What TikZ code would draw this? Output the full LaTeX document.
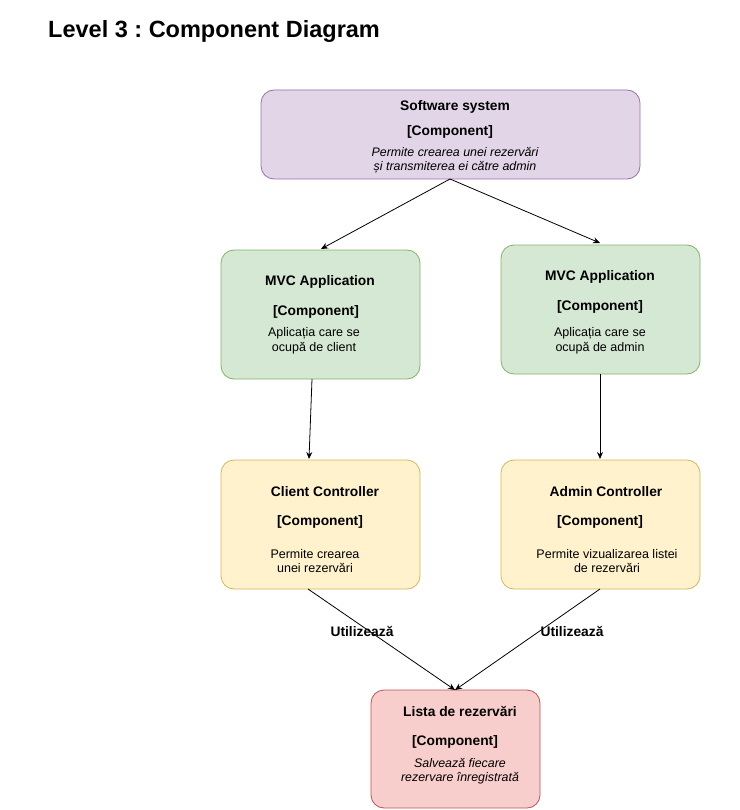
\documentclass[tikz,border=0pt]{standalone}
\usepackage{fontspec}
\setmainfont{Liberation Sans}
\usetikzlibrary{arrows.meta}
\frenchspacing
\definecolor{purpF}{HTML}{E1D5E7}\definecolor{purpS}{HTML}{9673A6}
\definecolor{greenF}{HTML}{D5E8D4}\definecolor{greenS}{HTML}{82B366}
\definecolor{yelF}{HTML}{FFF2CC}\definecolor{yelS}{HTML}{D6B656}
\definecolor{redF}{HTML}{F8CECC}\definecolor{redS}{HTML}{B85450}
\tikzset{
  box/.style={draw, rounded corners=13pt, line width=0.8pt},
  ttl/.style={font=\fontsize{13.8}{15}\selectfont\bfseries, inner sep=0pt},
  dsc/.style={font=\fontsize{12.5}{14.5}\selectfont, inner sep=0pt, align=center},
  dsci/.style={font=\fontsize{12.4}{14.5}\selectfont\itshape, inner sep=0pt, align=center},
  conn/.style={draw=black, line width=0.8pt, -{Stealth[length=7pt,width=6pt]}},
}
\begin{document}
\begin{tikzpicture}[x=1pt,y=-1pt]
\useasboundingbox (0,0) rectangle (739,810);
\node[anchor=west, font=\fontsize{23.5}{26}\selectfont\bfseries, inner sep=0pt] (title) at (48,31.5) {Level 3 : Component Diagram};
% boxes
\path[box, fill=purpF, draw=purpS] (261,90) rectangle (640,179);
\coordinate (ssb) at (450,179);
\path[box, fill=greenF, draw=greenS] (221,250) rectangle (420,379);
\path[box, fill=greenF, draw=greenS] (501,245) rectangle (700,374);
\path[box, fill=yelF, draw=yelS] (221,460) rectangle (420,589);
\path[box, fill=yelF, draw=yelS] (501,460) rectangle (700,589);
\path[box, fill=redF, draw=redS] (371,690) rectangle (540,808);
% texts
\node[ttl] (s1) at (455,106.5) {Software system};
\node[ttl] (s2) at (450,131.5) {[Component]};
\node[dsci] (s3) at (455,160.5) {Permite crearea unei rezervări\\și transmiterea ei către admin};
\node[ttl] (l1) at (320,281.5) {MVC Application};
\node[ttl] (l2) at (316,311.5) {[Component]};
\node[dsc] (l3) at (314,341) {Aplicația care se\\ocupă de client};
\node[ttl] (r1) at (600,276.5) {MVC Application};
\node[ttl] (r2) at (600,306.5) {[Component]};
\node[dsc] (r3) at (600,341) {Aplicația care se\\ocupă de admin};
\node[ttl] (c1) at (325,491.5) {Client Controller};
\node[ttl] (c2) at (320,521.5) {[Component]};
\node[dsc] (c3) at (315,561) {Permite crearea\\unei rezervări};
\node[ttl] (a1) at (606,491.5) {Admin Controller};
\node[ttl] (a2) at (600,521.5) {[Component]};
\node[dsc] (a3) at (607,561) {Permite vizualizarea listei\\de rezervări};
\node[ttl] (d1) at (460,711.5) {Lista de rezervări};
\node[ttl] (d2) at (455,741.5) {[Component]};
\node[dsci] (d3) at (460,771) {Salvează fiecare\\rezervare înregistrată};
% connector coordinates
\coordinate (lt) at (321,249);
\coordinate (rt) at (600,243);
\coordinate (lb) at (312,379);
\coordinate (ct) at (309,459);
\coordinate (rb) at (600,374);
\coordinate (at) at (600,459);
\coordinate (cb) at (308,589);
\coordinate (ab) at (600,589);
\coordinate (dt) at (455,690);
\draw[conn] (ssb) -- (lt);
\draw[conn] (ssb) -- (rt);
\draw[conn] (lb) -- (ct);
\draw[conn] (rb) -- (at);
\draw[conn] (cb) -- (dt);
\draw[conn] (ab) -- (dt);
\node[ttl] (u1) at (362,631.5) {Utilizează};
\node[ttl] (u2) at (572,631.5) {Utilizează};
\end{tikzpicture}
\end{document}
